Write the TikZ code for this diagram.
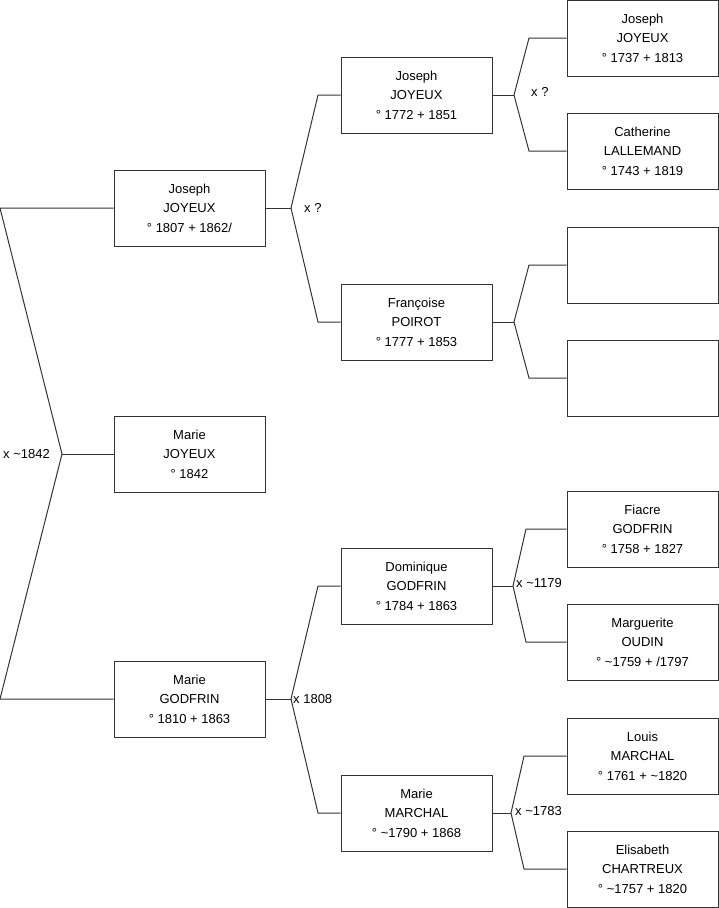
\documentclass[tikz,border=0pt]{standalone}
\usepackage{fontspec}
\setmainfont{Liberation Sans}
\definecolor{ln}{HTML}{333333}
\begin{document}
\begin{tikzpicture}[x=1pt,y=-1pt,
  person/.style={draw=ln,line width=1pt,minimum width=151pt,minimum height=76pt,
    inner sep=0pt,align=center,font=\fontsize{13}{19.5}\selectfont},
  conn/.style={draw=ln,line width=1pt},
  lbl/.style={anchor=west,inner sep=0pt,font=\fontsize{13}{15}\selectfont}]
\useasboundingbox (0,0) rectangle (719,908);
% generation 1
\node[person] (g1a) at (189.5,208) {Joseph\\JOYEUX\\° 1807 + 1862/};
\node[person] (g1b) at (189.5,454) {Marie\\JOYEUX\\° 1842};
\node[person] (g1c) at (189.5,699) {Marie\\GODFRIN\\° 1810 + 1863};
% generation 2
\node[person] (g2a) at (416.5,95) {Joseph\\JOYEUX\\° 1772 + 1851};
\node[person] (g2b) at (416.5,322) {Françoise\\POIROT\\° 1777 + 1853};
\node[person] (g2c) at (416.5,586) {Dominique\\GODFRIN\\° 1784 + 1863};
\node[person] (g2d) at (416.5,813) {Marie\\MARCHAL\\° \textasciitilde1790 + 1868};
% generation 3
\node[person] (g3a) at (642.5,38) {Joseph\\JOYEUX\\° 1737 + 1813};
\node[person] (g3b) at (642.5,151) {Catherine\\LALLEMAND\\° 1743 + 1819};
\node[person] (g3c) at (642.5,265) {};
\node[person] (g3d) at (642.5,378) {};
\node[person] (g3e) at (642.5,529) {Fiacre\\GODFRIN\\° 1758 + 1827};
\node[person] (g3f) at (642.5,642) {Marguerite\\OUDIN\\° \textasciitilde1759 + /1797};
\node[person] (g3g) at (642.5,756) {Louis\\MARCHAL\\° 1761 + \textasciitilde1820};
\node[person] (g3h) at (642.5,869) {Elisabeth\\CHARTREUX\\° \textasciitilde1757 + 1820};
% root fork
\coordinate (rt) at (0,208);
\coordinate (rb) at (0,699);
\coordinate (ra) at (62,454);
\draw[conn] (g1a.west) -- (rt) -- (ra) -- (rb) -- (g1c.west);
\draw[conn] (ra) -- (g1b.west);
\node[lbl] (m0) at (3,454) {x \textasciitilde1842};
% fork g1a
\coordinate (fa) at (291,208);
\coordinate (fa1) at (318,95);
\coordinate (fa2) at (318,322);
\draw[conn] (g1a.east) -- (fa);
\draw[conn] (g2a.west) -- (fa1) -- (fa) -- (fa2) -- (g2b.west);
\node[lbl] (m1) at (304,208) {x ?};
% fork g1c
\coordinate (fc) at (291,699);
\coordinate (fc1) at (318,586);
\coordinate (fc2) at (318,813);
\draw[conn] (g1c.east) -- (fc);
\draw[conn] (g2c.west) -- (fc1) -- (fc) -- (fc2) -- (g2d.west);
\node[lbl] (m2) at (293,699) {x 1808};
% fork g2a
\coordinate (ha) at (514,95);
\coordinate (ha1) at (529,38);
\coordinate (ha2) at (529,151);
\draw[conn] (g2a.east) -- (ha);
\draw[conn] (g3a.west) -- (ha1) -- (ha) -- (ha2) -- (g3b.west);
\node[lbl] (m3) at (531,92) {x ?};
% fork g2b
\coordinate (hb) at (514,322);
\coordinate (hb1) at (529,265);
\coordinate (hb2) at (529,378);
\draw[conn] (g2b.east) -- (hb);
\draw[conn] (g3c.west) -- (hb1) -- (hb) -- (hb2) -- (g3d.west);
% fork g2c
\coordinate (hc) at (513,586);
\coordinate (hc1) at (526,529);
\coordinate (hc2) at (526,642);
\draw[conn] (g2c.east) -- (hc);
\draw[conn] (g3e.west) -- (hc1) -- (hc) -- (hc2) -- (g3f.west);
\node[lbl] (m4) at (516,583) {x \textasciitilde1179};
% fork g2d
\coordinate (hd) at (511,813);
\coordinate (hd1) at (524,756);
\coordinate (hd2) at (524,869);
\draw[conn] (g2d.east) -- (hd);
\draw[conn] (g3g.west) -- (hd1) -- (hd) -- (hd2) -- (g3h.west);
\node[lbl] (m5) at (515,811) {x \textasciitilde1783};
\end{tikzpicture}
\end{document}
